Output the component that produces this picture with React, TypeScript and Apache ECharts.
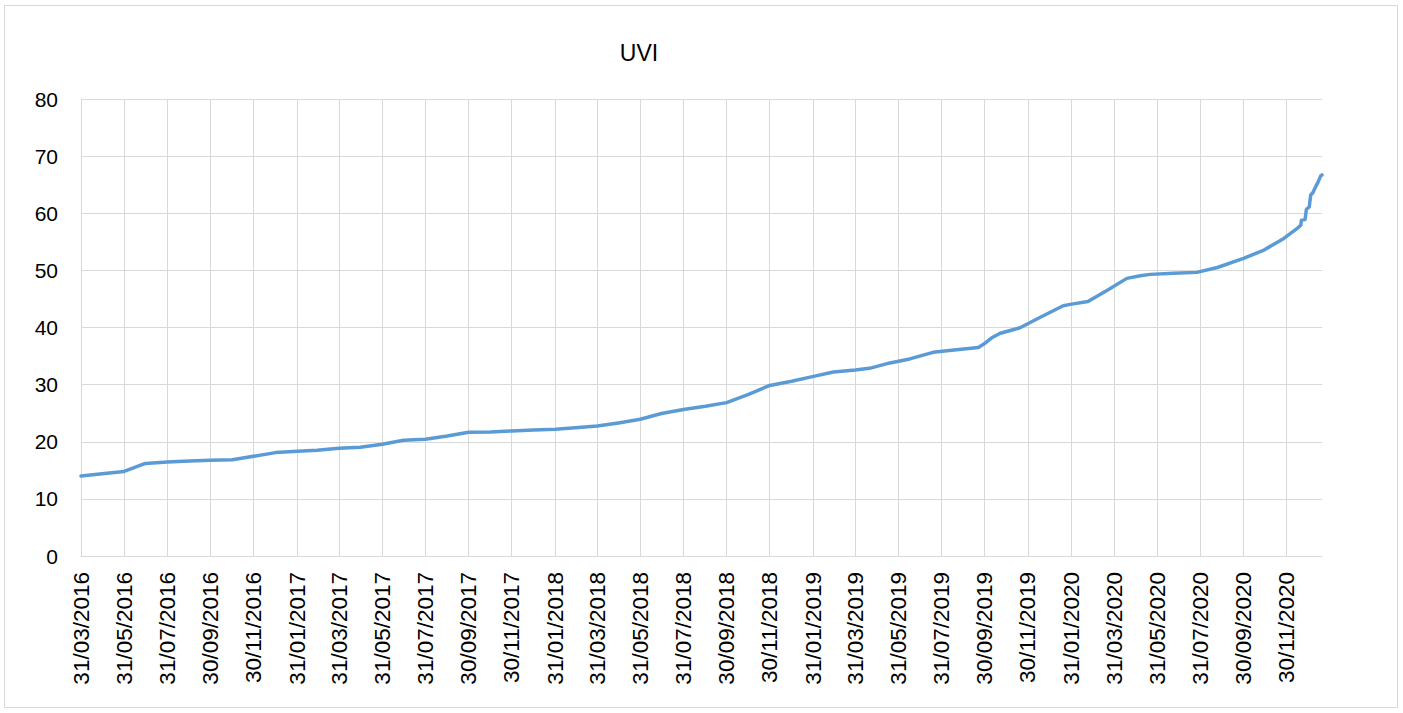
import React, { useEffect, useRef } from "react";
import * as echarts from "echarts";

const title = "UVI";
const startDate = "2016-03-31";
const endDate = "2021-01-19";

const tickLabels = [
  "31/03/2016", "31/05/2016", "31/07/2016", "30/09/2016", "30/11/2016",
  "31/01/2017", "31/03/2017", "31/05/2017", "31/07/2017", "30/09/2017", "30/11/2017",
  "31/01/2018", "31/03/2018", "31/05/2018", "31/07/2018", "30/09/2018", "30/11/2018",
  "31/01/2019", "31/03/2019", "31/05/2019", "31/07/2019", "30/09/2019", "30/11/2019",
  "31/01/2020", "31/03/2020", "31/05/2020", "31/07/2020", "30/09/2020", "30/11/2020",
];

const pointDates = [
  "2016-03-31", "2016-04-30", "2016-05-31", "2016-06-30", "2016-07-31", "2016-08-31",
  "2016-09-30", "2016-10-31", "2016-11-30", "2016-12-31", "2017-01-31", "2017-02-28",
  "2017-03-31", "2017-04-30", "2017-05-31", "2017-06-30", "2017-07-31", "2017-08-31",
  "2017-09-30", "2017-10-31", "2017-11-30", "2017-12-31", "2018-01-31", "2018-02-28",
  "2018-03-31", "2018-04-30", "2018-05-31", "2018-06-30", "2018-07-31", "2018-08-31",
  "2018-09-30", "2018-10-31", "2018-11-30", "2018-12-31", "2019-01-31", "2019-02-28",
  "2019-03-31", "2019-04-20", "2019-05-19", "2019-06-16", "2019-07-19", "2019-08-21",
  "2019-09-21", "2019-10-01", "2019-10-10", "2019-10-22", "2019-11-19", "2019-12-17",
  "2020-01-19", "2020-01-29", "2020-02-23", "2020-03-22", "2020-04-18", "2020-05-07",
  "2020-05-21", "2020-06-23", "2020-07-26", "2020-08-24", "2020-09-30", "2020-10-29",
  "2020-11-26", "2020-12-15", "2020-12-20", "2020-12-21", "2020-12-26", "2020-12-28",
  "2021-01-01", "2021-01-03", "2021-01-06", "2021-01-10", "2021-01-13", "2021-01-17",
  "2021-01-19",
];

const uviValues = [
  14.0, 14.4, 14.8, 16.2, 16.45, 16.65,
  16.75, 16.85, 17.45, 18.1, 18.35, 18.5,
  18.85, 19.05, 19.55, 20.25, 20.45, 21.0,
  21.65, 21.7, 21.9, 22.05, 22.2, 22.45,
  22.75, 23.3, 23.95, 24.95, 25.65, 26.2,
  26.85, 28.3, 29.85, 30.6, 31.45, 32.2,
  32.55, 32.85, 33.8, 34.5, 35.65, 36.1,
  36.5, 37.3, 38.2, 39.0, 39.95, 41.75,
  43.8, 44.05, 44.55, 46.55, 48.6, 49.05,
  49.3, 49.5, 49.65, 50.5, 52.1, 53.55,
  55.6, 57.35, 57.9, 58.8, 58.9, 60.7,
  61.1, 63.2, 63.6, 64.65, 65.35, 66.5,
  66.7,
];

function buildDays(start: string, end: string): string[] {
  const out: string[] = [];
  const [sy, sm, sd] = start.split("-").map(Number);
  const [ey, em, ed] = end.split("-").map(Number);
  let t = Date.UTC(sy, sm - 1, sd);
  const te = Date.UTC(ey, em - 1, ed);
  while (t <= te) {
    const d = new Date(t);
    const y = d.getUTCFullYear();
    const m = String(d.getUTCMonth() + 1).padStart(2, "0");
    const dd = String(d.getUTCDate()).padStart(2, "0");
    out.push(`${y}-${m}-${dd}`);
    t += 86400000;
  }
  return out;
}

function toLabel(iso: string): string {
  const [y, m, d] = iso.split("-");
  return `${d}/${m}/${y}`;
}

export default function App() {
  const ref = useRef<HTMLDivElement>(null);
  useEffect(() => {
    if (!ref.current) return;
    const chart = echarts.init(ref.current, undefined, { renderer: "svg" });
    const days = buildDays(startDate, endDate);
    const labelSet = new Set(tickLabels);
    const isTick = (idx: number, value: string) => labelSet.has(toLabel(String(value ?? days[idx])));
    const grid = "#D9D9D9";
    const font = "'Liberation Sans', Arial, sans-serif";
    chart.setOption({
      animation: false,
      backgroundColor: "#ffffff",
      graphic: [
        {
          type: "rect",
          shape: { x: 4.5, y: 5.5, width: 1393, height: 702 },
          style: { fill: "none", stroke: grid, lineWidth: 1 },
          silent: true,
        },
      ],
      title: {
        text: title,
        left: 634,
        top: 36,
        textAlign: "center",
        textStyle: { fontFamily: font, fontSize: 23, fontWeight: "normal", color: "#000" },
      },
      grid: { left: 81, right: 81, top: 99, bottom: 157, containLabel: false },
      xAxis: {
        type: "category",
        data: days,
        boundaryGap: false,
        axisLine: { show: true, lineStyle: { color: grid, width: 1 } },
        axisTick: { show: false, interval: isTick },
        splitLine: { show: true, interval: isTick, lineStyle: { color: grid, width: 1 } },
        axisLabel: {
          interval: isTick,
          rotate: 90,
          margin: 16,
          formatter: (v: string) => toLabel(v),
          fontFamily: font,
          fontSize: 22.5,
          color: "#000",
        },
      },
      yAxis: {
        type: "value",
        min: 0,
        max: 80,
        interval: 10,
        axisLine: { show: true, lineStyle: { color: grid, width: 1 } },
        axisTick: { show: false },
        splitLine: { show: true, lineStyle: { color: grid, width: 1 } },
        axisLabel: { margin: 23, fontFamily: font, fontSize: 21, color: "#000" },
      },
      series: [
        {
          type: "line",
          name: title,
          data: pointDates.map((d, i) => [d, uviValues[i]]),
          showSymbol: false,
          symbol: "none",
          lineStyle: { color: "#5B9BD5", width: 3.5, join: "round", cap: "round" },
          itemStyle: { color: "#5B9BD5" },
        },
      ],
    });
    return () => chart.dispose();
  }, []);
  return (
    <div
      ref={ref}
      style={{ position: "absolute", left: 0, top: 0, width: 1403, height: 713 }}
    />
  );
}
